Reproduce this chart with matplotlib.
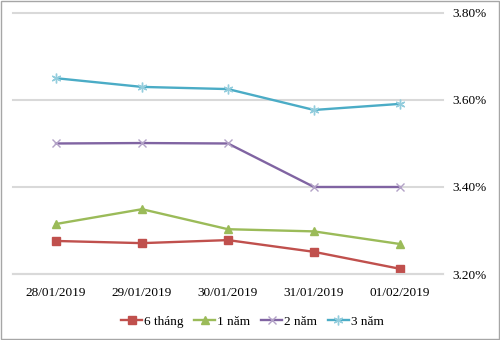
import matplotlib.pyplot as plt
import matplotlib.ticker as mticker

# ---------------- data ----------------
dates = ['28/01/2019', '29/01/2019', '30/01/2019', '31/01/2019', '01/02/2019']
thang6 = [3.276, 3.271, 3.278, 3.251, 3.212]
nam1 = [3.315, 3.349, 3.303, 3.298, 3.269]
nam2 = [3.500, 3.501, 3.500, 3.400, 3.400]
nam3 = [3.650, 3.630, 3.625, 3.577, 3.591]
yticks = [3.20, 3.40, 3.60, 3.80]

plt.rcParams['font.family'] = ['Liberation Serif', 'DejaVu Serif']

fig = plt.figure(figsize=(5, 3.4), dpi=100)
fig.patches.append(plt.Rectangle((0.002, 0.003), 0.995, 0.994, transform=fig.transFigure,
                                 fill=False, edgecolor='#A6A6A6', linewidth=1))
ax = fig.add_axes([0.026, 0.194, 0.86, 0.768])

x = range(len(dates))
ax.plot(x, thang6, color='#C0504D', lw=1.7, marker='s', ms=5.5, label='6 tháng')
ax.plot(x, nam1, color='#9BBB59', lw=1.7, marker='^', ms=6, label='1 năm')
ax.plot(x, nam2, color='#8064A2', lw=1.7, marker='x', ms=6, mec='#B3A2C7', mew=1, label='2 năm')
ax.plot(x, nam3, color='#4BACC6', lw=1.7, marker=(6, 2, 0), ms=7, mec='#93CDDD', mew=1, label='3 năm')

ax.set_xlim(-0.5, len(dates) - 0.5)
ax.set_ylim(3.2, 3.8)
ax.set_xticks(list(x))
ax.set_xticklabels(dates, fontsize=9.5)
ax.set_yticks(yticks)
ax.yaxis.set_major_formatter(mticker.FuncFormatter(lambda v, p: '%.2f%%' % v))
ax.yaxis.tick_right()
ax.tick_params(axis='y', labelsize=9.5, length=0, pad=7)
ax.tick_params(axis='x', length=0, pad=9)
ax.grid(axis='y', color='#D9D9D9', lw=1.5)
for gl in ax.get_ygridlines():
    gl.set_clip_on(False)
ax.set_axisbelow(True)
for s in ['top', 'left', 'right']:
    ax.spines[s].set_visible(False)
ax.spines['bottom'].set_color('#D9D9D9')
ax.spines['bottom'].set_linewidth(1.5)

fig.legend(loc='center', bbox_to_anchor=(0.505, 0.053), ncol=4, frameon=False,
           fontsize=9.5, handlelength=1.6, handletextpad=0.15, columnspacing=0.8)

fig.savefig('out.png', dpi=100)
